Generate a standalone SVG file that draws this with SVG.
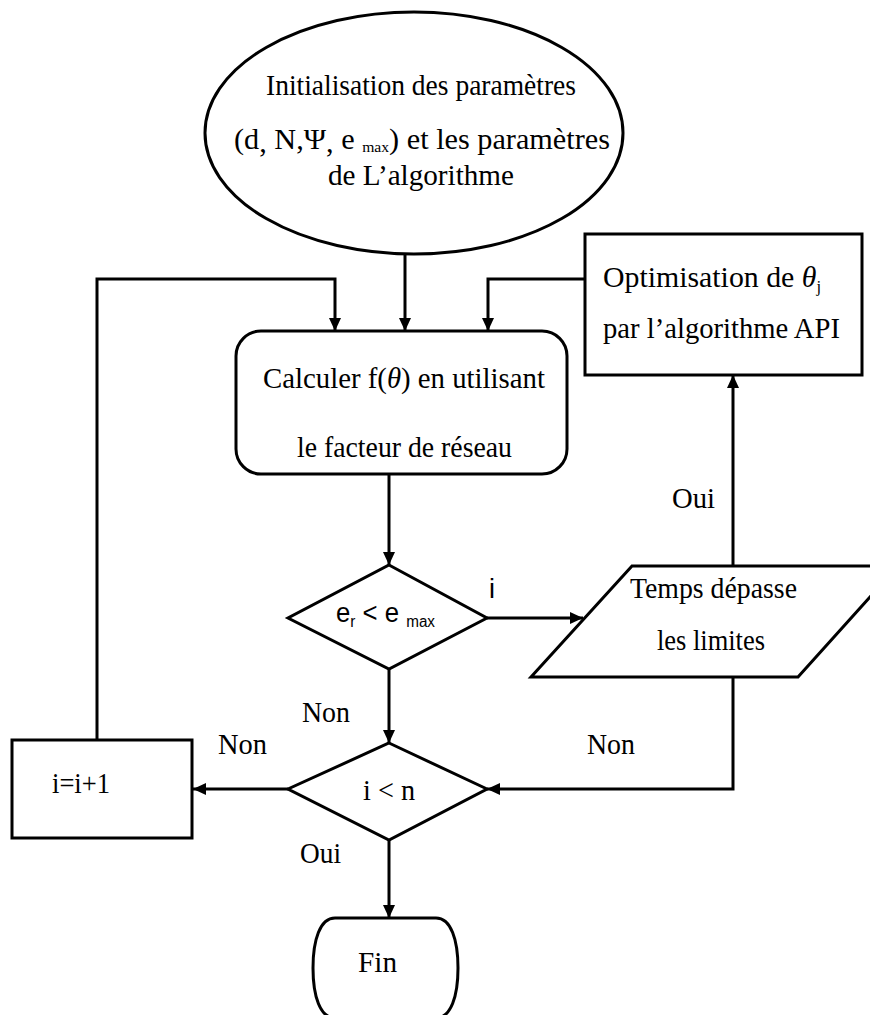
<svg xmlns="http://www.w3.org/2000/svg" width="870" height="1015" viewBox="0 0 870 1015">
<style>
.s{fill:#fff;stroke:#000;stroke-width:3}
.c{fill:none;stroke:#000;stroke-width:3}
.t{font-family:"Liberation Serif","Times New Roman",serif;font-size:29px;fill:#000}
.k{font-family:"Liberation Sans",Arial,sans-serif;font-size:27px;fill:#000}
</style>
<defs>
<marker id="a" markerUnits="userSpaceOnUse" markerWidth="14" markerHeight="12" refX="13" refY="6" orient="auto">
<path d="M0,0 L13,6 L0,12 z" fill="#000"/>
</marker>
</defs>
<rect width="870" height="1015" fill="#fff"/>
<g id="connectors">
<path class="c" d="M405,254 V331" marker-end="url(#a)"/>
<path class="c" d="M97,740 V279 H335 V331" marker-end="url(#a)"/>
<path class="c" d="M585,279 H488 V331" marker-end="url(#a)"/>
<path class="c" d="M389,474 V565" marker-end="url(#a)"/>
<path class="c" d="M487,618 H583" marker-end="url(#a)"/>
<path class="c" d="M733,565 V375" marker-end="url(#a)"/>
<path class="c" d="M733,677 V789 H487" marker-end="url(#a)"/>
<path class="c" d="M389,669 V743" marker-end="url(#a)"/>
<path class="c" d="M288,789 H193" marker-end="url(#a)"/>
<path class="c" d="M389,840 V918" marker-end="url(#a)"/>
</g>
<g id="labels">
<text class="k" x="489" y="598">i</text>
<text class="t" x="672" y="508" textLength="43" lengthAdjust="spacingAndGlyphs">Oui</text>
<text class="t" x="302" y="722" textLength="48" lengthAdjust="spacingAndGlyphs">Non</text>
<text class="t" x="587" y="754" textLength="48" lengthAdjust="spacingAndGlyphs">Non</text>
<text class="t" x="218" y="754" textLength="49" lengthAdjust="spacingAndGlyphs">Non</text>
<text class="t" x="300" y="863" textLength="41" lengthAdjust="spacingAndGlyphs">Oui</text>
</g>
<g id="init">
<ellipse class="s" cx="414" cy="133" rx="209" ry="121"/>
<text class="t" x="266" y="95" textLength="310" lengthAdjust="spacingAndGlyphs">Initialisation  des  paramètres</text>
<text class="t" x="234" y="149" textLength="376" lengthAdjust="spacingAndGlyphs">(d<tspan dy="3">,</tspan><tspan dy="-3"> N,Ψ</tspan><tspan dy="3">,</tspan><tspan dy="-3"> e </tspan><tspan font-size="15" dy="3">max</tspan><tspan dy="-3">) et les paramètres</tspan></text>
<text class="t" x="328" y="185" textLength="186" lengthAdjust="spacingAndGlyphs">de L’algorithme</text>
</g>
<g id="calcul">
<rect class="s" x="236" y="331" width="331" height="143" rx="25"/>
<text class="t" x="263" y="388" textLength="282" lengthAdjust="spacingAndGlyphs">Calculer  f(<tspan font-style="italic">θ</tspan>) en utilisant</text>
<text class="t" x="297" y="457" textLength="215" lengthAdjust="spacingAndGlyphs">le facteur de réseau</text>
</g>
<g id="optimisation">
<rect class="s" x="585" y="234" width="277" height="141"/>
<text class="t" x="603" y="287" textLength="218" lengthAdjust="spacingAndGlyphs">Optimisation  de  <tspan font-style="italic">θ</tspan><tspan font-size="16" dy="5">j</tspan></text>
<text class="t" x="603" y="338" textLength="237" lengthAdjust="spacingAndGlyphs">par l’algorithme  API</text>
</g>
<g id="test-erreur">
<polygon class="s" points="389,565 487,618 389,669 288,618"/>
<text class="k" x="336" y="622" textLength="99" lengthAdjust="spacingAndGlyphs">e<tspan font-size="16" dy="5">r</tspan><tspan dy="-5"> &lt; e </tspan><tspan font-size="16" dy="5">max</tspan></text>
</g>
<g id="temps">
<polygon class="s" points="632,566 898,566 798,677 531,677"/>
<text class="t" x="630" y="598" textLength="167" lengthAdjust="spacingAndGlyphs">Temps dépasse</text>
<text class="t" x="657" y="650" textLength="108" lengthAdjust="spacingAndGlyphs">les limites</text>
</g>
<g id="test-iteration">
<polygon class="s" points="389,743 487,789 389,840 288,789"/>
<text class="t" x="363" y="800" textLength="52" lengthAdjust="spacingAndGlyphs">i &lt; n</text>
</g>
<g id="increment">
<rect class="s" x="12" y="740" width="180" height="98"/>
<text class="t" x="52" y="793" textLength="58" lengthAdjust="spacingAndGlyphs">i=i+1</text>
</g>
<g id="fin">
<path class="s" d="M335,918 H436 C451,918 458,940 458,968 C458,996 451,1018 436,1018 H335 C320,1018 313,996 313,968 C313,940 320,918 335,918 Z"/>
<text class="t" x="358" y="972" textLength="39" lengthAdjust="spacingAndGlyphs">Fin</text>
</g>
</svg>
